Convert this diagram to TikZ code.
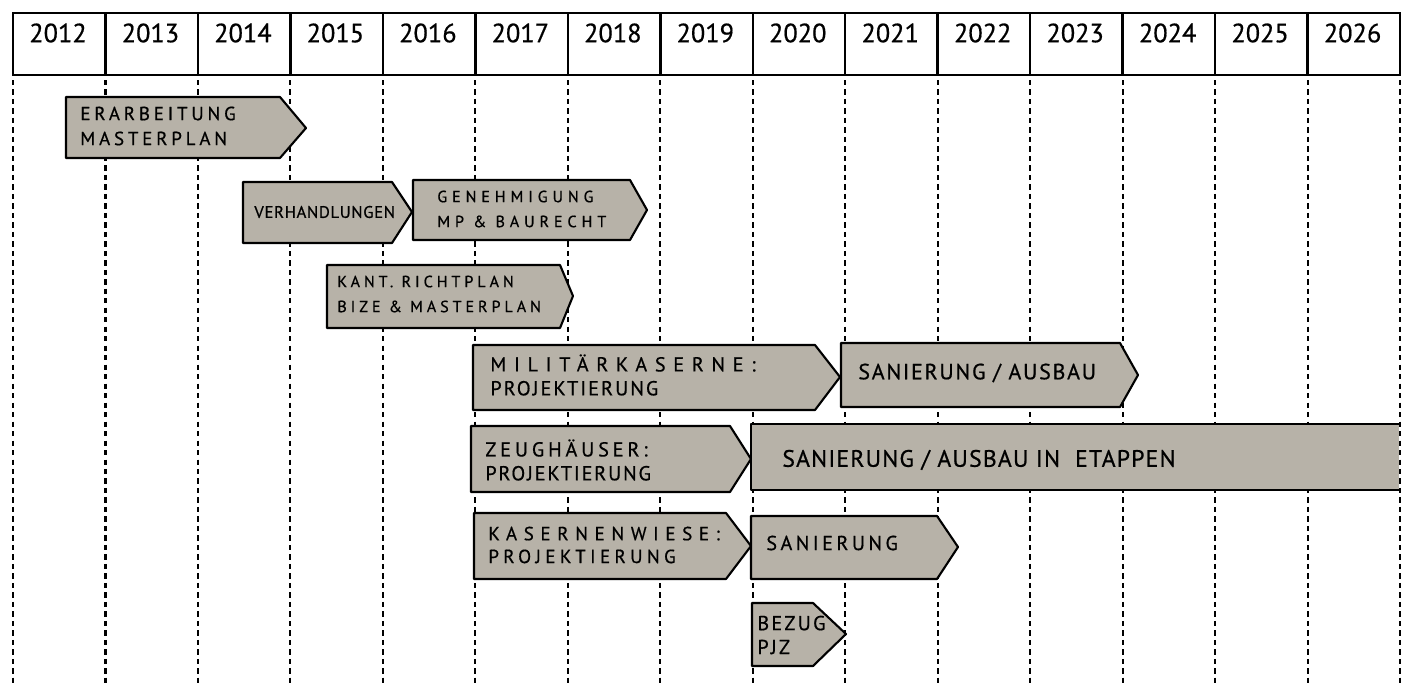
\documentclass[tikz,border=0pt]{standalone}
\usepackage{fontspec}
\usepackage{tikz}
\setmainfont{PT Sans}
\newfontfamily\handfont[FakeBold=0.6]{PT Sans}
\definecolor{barfill}{RGB}{183,178,168}

\begin{document}
\begin{tikzpicture}[x=0.02cm, y=-0.02cm,
    phase/.style={fill=barfill, draw=black, line width=1.2pt, line join=round},
    gridline/.style={black, line width=1.2pt, dash pattern=on 3pt off 2.4pt},
    headline/.style={black, line width=1.4pt},
    yearlabel/.style={font=\handfont\fontsize{15}{15}\selectfont},
    phasetext/.style={anchor=west, align=left, inner sep=0pt},
    hand/.style n args={3}{font=\handfont\fontsize{#1}{#2}\selectfont\addfontfeatures{LetterSpace=#3}}
]
\useasboundingbox (0,0) rectangle (1405,687);

% --- DASHED YEAR LINES ---
\foreach \i in {0,...,15}
    \draw[gridline] (13+92.47*\i,80) -- (13+92.47*\i,687);

% --- YEAR HEADER ---
\draw[headline] (13,13) rectangle (1400,75);
\foreach \i in {1,...,14}
    \draw[headline] (13+92.47*\i,13) -- (13+92.47*\i,75);
\foreach \yr [count=\i from 0] in {2012,...,2026}
    \node[yearlabel] (y\yr) at (58+92.47*\i,33) {\yr};

% --- MASTERPLAN & PERMITS ---
\draw[phase] (66,97) -- (280,97) -- (306,128) -- (280,158) -- (66,158) -- cycle;
\node[phasetext, hand={10.8}{14.2}{20}] (masterplan) at (80,126) {ERARBEITUNG\\MASTERPLAN};

\draw[phase] (243,182) -- (392,182) -- (412,212) -- (392,243) -- (243,243) -- cycle;
\node[phasetext, hand={9.5}{12}{4}] (verhandlungen) at (254,212) {VERHANDLUNGEN};

\draw[phase] (413,180) -- (630,180) -- (647,210) -- (630,240) -- (413,240) -- cycle;
\node[phasetext, hand={9.2}{14.2}{30}] (genehmigung) at (437,209) {GENEHMIGUNG\\MP \& BAURECHT};

\draw[phase] (327,265) -- (560,265) -- (573,296) -- (560,328) -- (327,328) -- cycle;
\node[phasetext, hand={9.2}{14.2}{24}] (richtplan) at (337,294) {KANT. RICHTPLAN\\BIZE \& MASTERPLAN};

% --- MILITAERKASERNE ---
\draw[phase] (473,345) -- (815,345) -- (840,377) -- (815,410) -- (473,410) -- cycle;
\node[phasetext, hand={11.5}{13.6}{10}] (militaer) at (490,375)
    {{\addfontfeatures{LetterSpace=38}MILITÄRKASERNE:}\\PROJEKTIERUNG};

\draw[phase] (841,343) -- (1120,343) -- (1138,375) -- (1120,407) -- (841,407) -- cycle;
\node[phasetext, hand={12.5}{14}{8}] (ausbau) at (858,373) {SANIERUNG / AUSBAU};

% --- ZEUGHAEUSER ---
\draw[phase] (471,426) -- (730,426) -- (751,459) -- (730,492) -- (471,492) -- cycle;
\node[phasetext, hand={11.5}{13.6}{9}] (zeughaus) at (485,460)
    {{\addfontfeatures{LetterSpace=19}ZEUGHÄUSER:}\\PROJEKTIERUNG};

\fill[barfill] (751,424) rectangle (1399,490);
\draw[phase, fill=none] (1400,424) -- (751,424) -- (751,490) -- (1400,490);
\node[phasetext, hand={13.5}{14}{5}] (etappen) at (782,460) {SANIERUNG / AUSBAU IN \ ETAPPEN};

% --- KASERNENWIESE ---
\draw[phase] (474,513) -- (726,513) -- (751,546) -- (726,579) -- (474,579) -- cycle;
\node[phasetext, hand={10.8}{13}{23}] (wiese) at (488,545)
    {{\addfontfeatures{LetterSpace=35}KASERNENWIESE:}\\PROJEKTIERUNG};

\draw[phase] (751,516) -- (937,516) -- (958,547) -- (937,579) -- (751,579) -- cycle;
\node[phasetext, hand={11.5}{14}{17}] (sanierung) at (766,543) {SANIERUNG};

% --- PJZ ---
\draw[phase] (752,603) -- (813,603) -- (846,634) -- (813,666) -- (752,666) -- cycle;
\node[phasetext, hand={11.5}{13.6}{11}] (bezug) at (757,635) {BEZUG\\PJZ};
\end{tikzpicture}
\end{document}
